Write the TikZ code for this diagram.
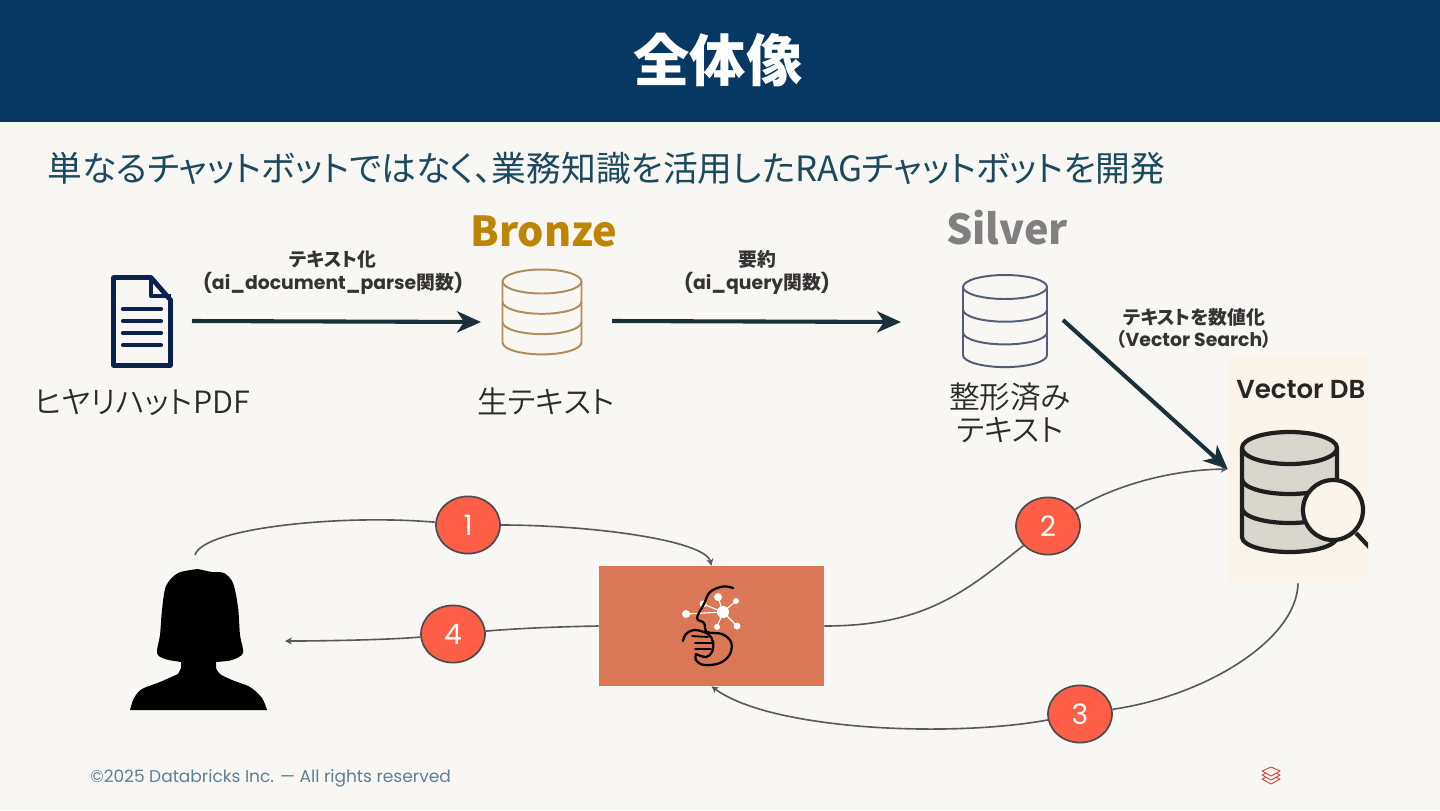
\documentclass[tikz,border=0pt]{standalone}
\usepackage{fontspec}
\setmainfont[RawFeature=+palt]{Noto Sans CJK JP}
\newfontfamily\jpfont[RawFeature=+palt]{Noto Sans CJK JP DemiLight}
\newfontfamily\latinfont{Poppins}
\newfontfamily\latinsemi{Poppins SemiBold}
\usetikzlibrary{arrows.meta,shapes.geometric}

\definecolor{pagebg}{HTML}{F9F7F4}
\definecolor{headblue}{HTML}{073763}
\definecolor{subteal}{HTML}{1B4A5E}
\definecolor{flowdark}{HTML}{1B3139}
\definecolor{bronzetxt}{HTML}{BE8505}
\definecolor{bronzeline}{HTML}{B08D5B}
\definecolor{silverline}{HTML}{525E76}
\definecolor{navyicon}{HTML}{0B2150}
\definecolor{panelbg}{HTML}{FBF4EA}
\definecolor{cylfill}{HTML}{D9D6CE}
\definecolor{badgered}{HTML}{FF5F46}
\definecolor{agentbg}{HTML}{DA7756}
\definecolor{footgrey}{HTML}{5F7F92}
\definecolor{logored}{HTML}{D0504A}

% One database stack: centre x, top y, half width, band step, colour.
\newcommand{\dbstack}[5]{%
  \begin{scope}[shift={(#1,#2)}, draw=#5, line width=1.4pt]
    \draw (0,12) ellipse [x radius=#3, y radius=12];
    \foreach \k in {1,2}
      \draw (-#3,{12+\k*#4}) arc[start angle=180, end angle=0, x radius=#3, y radius=12];
    \draw (-#3,12) -- (-#3,{12+3*#4}) arc[start angle=180, end angle=0, x radius=#3, y radius=12] -- (#3,12);
  \end{scope}}

\begin{document}
\begin{tikzpicture}[
  x=0.025cm, y=-0.025cm,
  flow/.style={-{Stealth[length=17pt, width=15pt, inset=5pt]}, line width=2.9pt, draw=flowdark},
  callflow/.style={-{Stealth[length=5pt, width=5pt]}, line width=1.15pt, draw=black!65},
  badge/.style={ellipse, draw=black!70, fill=badgered, line width=1.2pt, inner sep=0pt,
    minimum width=1.6cm, minimum height=1.43cm, text=white, font=\fontsize{20}{24}\selectfont\latinfont},
  caption/.style={text=black!83, inner sep=0pt, font=\fontsize{21.8}{25}\selectfont\jpfont},
  steptext/.style={text=black!80, inner sep=0pt, align=center, font=\fontsize{13.4}{15.8}\selectfont\bfseries},
  medal/.style={inner sep=0pt, font=\fontsize{29.4}{34}\selectfont\bfseries}
]
\useasboundingbox (0,0) rectangle (1440,810);
\fill[pagebg] (0,0) rectangle (1440,810);
\fill[headblue] (0,0) rectangle (1440,122);

\node[text=white, inner sep=0pt, font=\fontsize{40}{46}\selectfont\bfseries] (title) at (718,60) {全体像};
\node[anchor=west, text=subteal, inner sep=0pt, font=\fontsize{24.75}{28}\selectfont] (subtitle) at (47,168)
  {単なるチャットボットではなく、業務知識を活用したRAGチャットボットを開発};

% Document icon.
\draw[navyicon, line width=3.4pt, line join=round, fill=pagebg]
  (113.5,277.5) -- (151,277.5) -- (170.5,300) -- (170.5,365.5) -- (113.5,365.5) -- cycle;
\draw[navyicon, line width=3.4pt, line join=round] (151,277.5) -- (151,296) -- (170.5,296);
\foreach \yy in {309,321,333,345}
  \draw[navyicon, line width=3pt, line cap=round] (123,\yy) -- (161,\yy);

\dbstack{542}{269.5}{39.5}{20.3}{bronzeline}
\dbstack{1005}{275}{42}{22.7}{silverline}

\node[medal, text=bronzetxt] (bronze) at (544,231) {Bronze};
\node[medal, text=black!50] (silver) at (1007,228) {Silver};

\node[caption, anchor=west] (pdfname) at (34,402) {ヒヤリハットPDF};
\node[caption] (rawtext) at (546,401.5) {生テキスト};
\node[caption] (cleantop) at (1010,397) {整形済み};
\node[caption] (cleantext) at (1010,430) {テキスト};

\node[steptext] (parse) at (333,272.5) {テキスト化\\{\latinfont (ai\_document\_parse}関数{\latinfont )}};
\node[steptext] (query) at (757,272.5) {要約\\{\latinfont (ai\_query}関数{\latinfont )}};
\node[steptext] (embed) at (1194,328.5) {テキストを数値化\\（{\latinfont Vector Search}）};

% Vector DB panel.
\node[fill=panelbg, inner sep=0pt, minimum width=3.5cm, minimum height=5.7cm] (vecdb) at (1298,469) {};
\node[anchor=west, inner sep=0pt, text=black!85, font=\fontsize{18.5}{22}\selectfont\latinsemi] (vectitle) at (1236,390) {Vector DB};
\begin{scope}
  \clip (1228,355) rectangle (1368,583);
  \draw[black!88, line width=3pt, fill=cylfill] (1242,448) -- (1242,537)
    arc[start angle=180, end angle=0, x radius=47.5, y radius=15] -- (1337,448);
  \draw[black!88, line width=3pt, fill=cylfill] (1289.5,448) ellipse [x radius=47.5, y radius=16];
  \draw[black!88, line width=3pt] (1242,479) arc[start angle=180, end angle=0, x radius=47.5, y radius=15];
  \draw[black!88, line width=3pt] (1242,508) arc[start angle=180, end angle=0, x radius=47.5, y radius=15];
  \draw[black!88, line width=3pt] (1356,533) -- (1372,550);
  \draw[black!88, line width=3pt, fill=panelbg] (1333,510) circle [radius=30];
\end{scope}

% Agent box and its mark.
\node[fill=agentbg, inner sep=0pt, minimum width=5.625cm, minimum height=3cm] (agent) at (711.5,626) {};
\foreach \xx/\yy in {686/614,703/604,718/597,736/601,737/626,717/627}
  \draw[white, line width=0.8pt] (723,612) -- (\xx,\yy);
\foreach \xx/\yy/\rr in {723/612/6,686/614/4,703/604/3.5,718/597/4,736/601/3,737/626/3.5,717/627/3}
  \fill[white] (\xx,\yy) circle [radius=\rr];
\draw[black, line width=1.6pt, line cap=round] plot[smooth, tension=0.6] coordinates
  {(733,588) (723,586.5) (710,592) (704,604) (697,618) (704,623) (707,632) (722,634) (731,642) (730,654) (720,663) (704,665) (696,660) (696,654)};
\draw[black, line width=1.6pt, line cap=round] plot[smooth, tension=0.6] coordinates
  {(683,641) (686,634) (695,630) (708,634) (713,642) (712,652) (706,657) (696,654)};
\draw[black, line width=1.3pt, line cap=round] (692,636) -- (708,637);
\draw[black, line width=1.3pt, line cap=round] (695,643) -- (712,643);
\draw[black, line width=1.3pt, line cap=round] (695,649) -- (711,649);

% Person.
\fill[black] plot[smooth, tension=0.5] coordinates
  {(198,569) (178,573) (166,586) (162,610) (160,635) (157,653) (165,659) (181,662)} --
  (181,668) -- plot[smooth, tension=0.5] coordinates
  {(178,674) (160,682) (142,689) (134,698) (130,710)} -- (267,710)
  -- plot[smooth, tension=0.5] coordinates
  {(267,710) (262,698) (250,687) (232,680) (220,674) (216,668)} -- (216,662)
  -- plot[smooth, tension=0.5] coordinates
  {(216,662) (232,660) (243,653) (240,635) (238,607) (233,583) (224,573) (212,572) (198,569)} -- cycle;
\coordinate (usertop) at (195,555);
\coordinate (userfront) at (285,641);

% Numbered calls.
\node[badge] (call1) at (468,525) {1};
\node[badge] (call2) at (1048,526) {2};
\node[badge] (call3) at (1080,714) {3};
\node[badge] (call4) at (453,634) {4};

\draw[callflow] (usertop) .. controls (203,528) and (340,514) .. (call1)
  (call1) .. controls (590,525) and (705,540) .. (agent.north);
\draw[callflow] (agent.east) .. controls (925,626) and (965,592) .. (call2)
  (call2) .. controls (1110,488) and (1165,470) .. (vecdb.west);
\draw[callflow] (vecdb.south) .. controls (1297,640) and (1205,696) .. (call3)
  (call3) .. controls (950,738) and (770,730) .. (agent.south);
\draw[callflow] (agent.west) .. controls (545,627) and (510,629) .. (call4)
  (call4) .. controls (400,639) and (340,641) .. (userfront);

% Pipeline arrows.
\coordinate (pdfout) at (192,321);
\coordinate (brzin) at (481,322);
\coordinate (brzout) at (612,321);
\coordinate (slvin) at (901,322);
\coordinate (slvout) at (1063,320);
\draw[flow] (pdfout) -- (brzin);
\draw[flow] (brzout) -- (slvin);
\draw[flow] (slvout) -- (vecdb.west);

% Footer.
\node[anchor=west, inner sep=0pt, text=footgrey, font=\fontsize{12.1}{15}\selectfont\latinfont] (footer) at (90,778)
  {©2025 Databricks Inc. — All rights reserved};
\foreach \dy in {8,4,0}
  \draw[logored, line width=0.7pt, fill=pagebg, line join=round] (1262,{771+\dy}) -- (1271,{767+\dy}) -- (1280,{771+\dy}) -- (1271,{776+\dy}) -- cycle;
\end{tikzpicture}
\end{document}
